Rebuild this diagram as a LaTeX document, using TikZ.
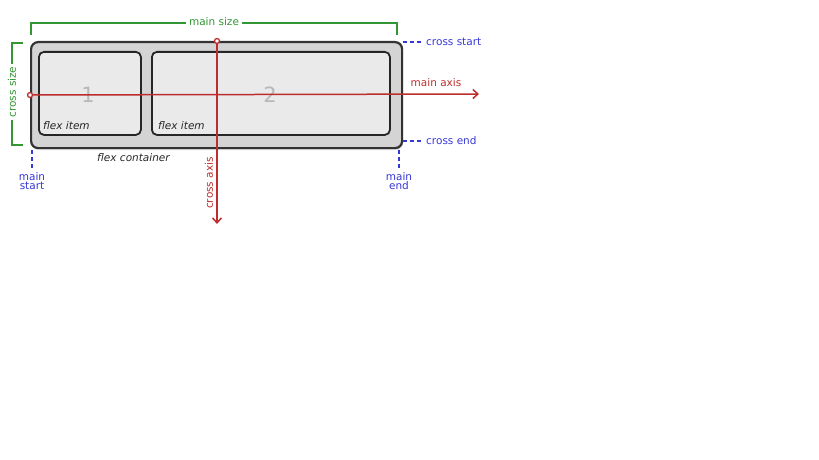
\documentclass[tikz,border=0pt]{standalone}
\usepackage{fontspec}
\setmainfont{DejaVu Sans}
\usepackage{tikz}
\usepackage{xcolor}
\usetikzlibrary{positioning, shapes, arrows, arrows.meta, shadows}
\definecolor{FlexRed}{RGB}{190,45,45}
\definecolor{FlexGreen}{RGB}{50,150,50}
\definecolor{FlexBlue}{RGB}{55,55,215}
\definecolor{FlexGray}{RGB}{212,212,212}
\definecolor{FlexLight}{RGB}{234,234,234}

\begin{document}
\begin{tikzpicture}[x=1pt, y=-1pt, every node/.style={font=\fontsize{10.5}{11.5}\selectfont, inner sep=1pt},
  container/.style={rectangle, rounded corners=7pt, draw=black!80, fill=FlexGray, line width=2.2pt, anchor=north west, drop shadow={opacity=0.25, shadow xshift=1pt, shadow yshift=-2pt}},
  item/.style={rectangle, rounded corners=5pt, draw=black!85, fill=FlexLight, line width=1.8pt, anchor=north west},
  num/.style={font=\fontsize{21}{23}\selectfont, text=black!28},
  itemlabel/.style={font=\fontsize{10.5}{11.5}\selectfont\itshape, text=black!85, anchor=west},
  axis/.style={-{Straight Barb[length=5pt, width=9pt]}, line width=1.5pt, draw=FlexRed},
  dot/.style={circle, draw=FlexRed, line width=1.3pt, fill=white, inner sep=0pt, minimum size=5pt},
  sizebar/.style={line width=1.6pt, draw=FlexGreen},
  guide/.style={dash pattern=on 4pt off 3pt, line width=1.3pt, draw=FlexBlue, shorten >=3pt}
]
    \useasboundingbox (0,0) rectangle (819,460);

    % container and items
    \node[container, minimum width=371pt, minimum height=106pt] (cont) at (30,41) {};
    \node[item, minimum width=102pt, minimum height=83pt] (item1) at (38,51) {};
    \node[item, minimum width=238pt, minimum height=83pt] (item2) at (151,51) {};
    \node[num] (n1) at (88,95) {1};
    \node[num] (n2) at (270,95) {2};
    \node[itemlabel] (l1) at (42,126) {flex item};
    \node[itemlabel] (l2) at (157,126) {flex item};
    \node[itemlabel] (lc) at (96,158) {flex container};

    % axes
    \coordinate (mstart) at (30,95);
    \coordinate (mend) at (479,94);
    \coordinate (cstart) at (217,41);
    \coordinate (cend) at (217,224);
    \draw[axis] (mstart) -- (mend);
    \draw[axis] (cstart) -- (cend);
    \node[dot] (d1) at (mstart) {};
    \node[dot] (d2) at (cstart) {};
    \node[text=FlexRed] (ma) at (436,83) {main axis};
    \node[text=FlexRed, rotate=90] (ca) at (209,183) {cross axis};

    % sizes
    \coordinate (ms1) at (31,35);
    \coordinate (ms2) at (397,35);
    \draw[sizebar] (ms1) |- (214,23) -| (ms2);
    \node[text=FlexGreen, fill=white, inner sep=3pt] (msz) at (214,22) {main size};
    \coordinate (cs1) at (23,43);
    \coordinate (cs2) at (23,145);
    \draw[sizebar] (cs1) -| (12,94) |- (cs2);
    \node[text=FlexGreen, fill=white, inner sep=3pt, rotate=90] (csz) at (12,92) {cross size};

    % start and end marks
    \coordinate (csa) at (403,42);
    \coordinate (cea) at (403,141);
    \node[text=FlexBlue, anchor=west] (cst) at (425,42) {cross start};
    \node[text=FlexBlue, anchor=west] (cen) at (425,141) {cross end};
    \draw[guide] (csa) -- (cst);
    \draw[guide] (cea) -- (cen);
    \coordinate (msa) at (32,150);
    \coordinate (mea) at (399,150);
    \node[text=FlexBlue, align=center, anchor=north] (mst) at (32,171) {main\\[-2pt]start};
    \node[text=FlexBlue, align=center, anchor=north] (men) at (399,171) {main\\[-2pt]end};
    \draw[guide] (msa) -- (mst);
    \draw[guide] (mea) -- (men);
\end{tikzpicture}
\end{document}
